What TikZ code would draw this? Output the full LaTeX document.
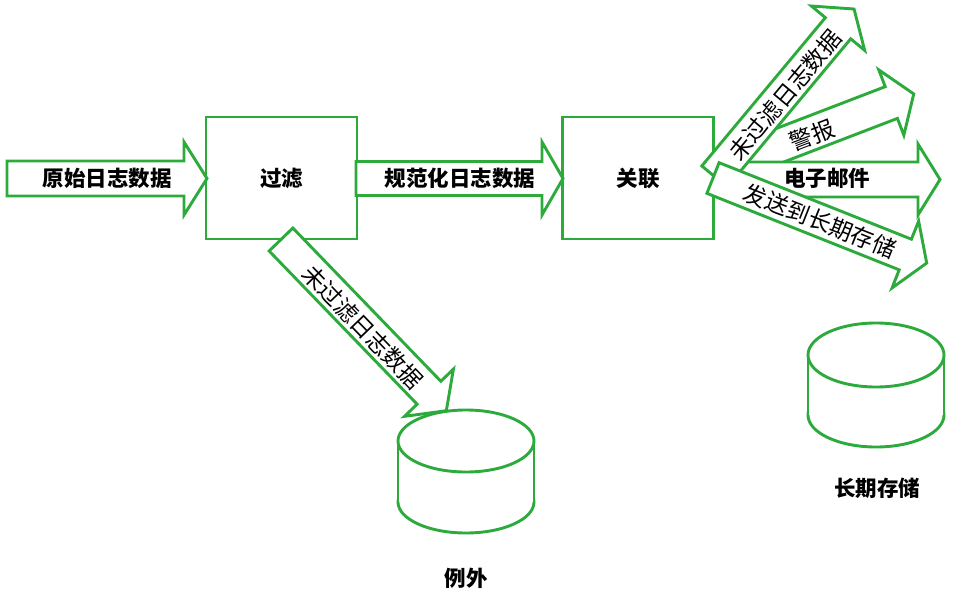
\documentclass[tikz,border=0pt]{standalone}
\usepackage{fontspec}
\setmainfont{Noto Sans CJK SC}
\definecolor{grn}{RGB}{44,170,60}
\tikzset{
  barrow/.style={draw=grn, line width=2.9pt, fill=white, line join=miter},
  boxnode/.style={draw=grn, line width=2.9pt, fill=white, minimum width=151pt,
    minimum height=122pt, inner sep=0pt, font=\fontsize{21.5}{21.5}\selectfont\bfseries},
  blbl/.style={font=\fontsize{21.5}{21.5}\selectfont\bfseries, inner sep=0pt},
  rlbl/.style={font=\fontsize{23}{23}\selectfont, inner sep=0pt},
  cylline/.style={draw=grn, line width=2.9pt},
}
% tail x, tail y, angle, length, head length, half head width, half body width
\newcommand\blockarr[7]{%
  \begin{scope}[shift={(#1,#2)},rotate=#3]
    \draw[barrow] (0,-#7) -- ({#4-#5},-#7) -- ({#4-#5},-#6) -- (#4,0)
      -- ({#4-#5},#6) -- ({#4-#5},#7) -- (0,#7) -- cycle;
  \end{scope}}
% center x, top ellipse cy, x radius, y radius, bottom ellipse cy
\newcommand\drumshape[5]{%
  \draw[cylline, fill=white] (#1,#5) ellipse[x radius=#3, y radius=#4];
  \fill[white] ({#1-#3},#2) rectangle ({#1+#3},#5);
  \draw[cylline] ({#1-#3},#2) -- ({#1-#3},#5);
  \draw[cylline] ({#1+#3},#2) -- ({#1+#3},#5);
  \draw[cylline, fill=white] (#1,#2) ellipse[x radius=#3, y radius=#4];}
\begin{document}
\begin{tikzpicture}[x=1pt,y=-1pt]
  \fill[white] (0,0) rectangle (955,610);
  \useasboundingbox (0,0) rectangle (955,610);
  % boxes
  \node[boxnode] (filter) at (281.5,178) {过滤};
  \node[boxnode] (corr) at (638,178) {关联};
  % horizontal arrows
  \blockarr{7}{178.5}{0}{200}{23}{36.5}{17.5}
  \blockarr{356}{178.5}{0}{207}{21}{36.5}{17}
  % exception store
  \drumshape{466}{441}{68}{31}{502}
  \blockarr{281}{239.5}{-46}{238}{25}{34}{16.5}
  % fan of arrows
  \blockarr{727}{165.6}{21}{200}{24}{35}{17}
  \blockarr{725}{179.5}{0}{215}{22}{35.5}{17.5}
  \blockarr{714.5}{176.5}{50.2}{218}{25}{34.7}{16.5}
  \blockarr{713}{178}{-21.7}{230}{23}{36}{16.5}
  % long-term store
  \drumshape{876}{355}{68}{32}{415}
  % labels
  \node[blbl] (raw) at (107,178) {原始日志数据};
  \node[blbl] (norm) at (460,178) {规范化日志数据};
  \node[rlbl, rotate=-46] (unf1) at (363,327) {未过滤日志数据};
  \node[blbl] (exc) at (466,578) {例外};
  \node[rlbl, rotate=50.2] (unf2) at (785,95) {未过滤日志数据};
  \node[rlbl, rotate=21] (alarm) at (812,135) {警报};
  \node[blbl] (mail) at (827,178) {电子邮件};
  \node[rlbl, rotate=-21.7] (send) at (820,221) {发送到长期存储};
  \node[blbl] (lts) at (877,488) {长期存储};
\end{tikzpicture}
\end{document}
